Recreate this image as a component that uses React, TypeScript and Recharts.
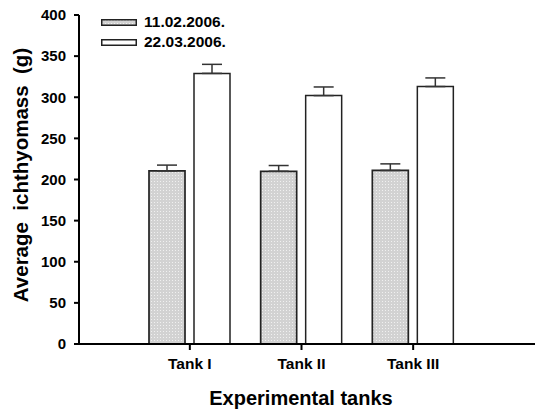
import React from 'react';
import { BarChart, Bar, XAxis, YAxis, ErrorBar, Legend, Label } from 'recharts';

const categories = ['Tank I', 'Tank II', 'Tank III'];
const seriesNames = ['11.02.2006.', '22.03.2006.'];
const series1 = [210.5, 210, 211];
const series2 = [329, 302, 313];
const err1 = [7, 7, 8];
const err2 = [11, 10.5, 10.5];
const yTicks = [0, 50, 100, 150, 200, 250, 300, 350, 400];

const data = categories.map((c, i) => ({
  name: c,
  s1: series1[i],
  s2: series2[i],
  e1: [0, err1[i]],
  e2: [0, err2[i]],
}));

const FONT = '"Liberation Sans", Arial, Helvetica, sans-serif';

const PatternDef = ({ id }: { id: string }) => (
  <pattern id={id} width="3" height="3" patternUnits="userSpaceOnUse">
    <rect x="0" y="0" width="3" height="3" fill="#d2d2d2" />
    <rect x="1" y="1" width="1" height="1" fill="#f0f0f0" />
  </pattern>
);

const LegendContent = () => (
  <div
    style={{
      position: 'relative',
      width: 200,
      height: 40,
      fontFamily: FONT,
      fontWeight: 'bold',
      fontSize: 15.5,
      color: '#000',
    }}
  >
    {seriesNames.map((n, i) => (
      <React.Fragment key={n}>
        <svg
          width={36}
          height={7}
          style={{ position: 'absolute', left: 0, top: 7 + i * 19.5, width: 36, height: 7, display: 'block' }}
        >
          <defs>
            <PatternDef id={'legendDots' + i} />
          </defs>
          <rect
            x={0.75}
            y={0.75}
            width={34.5}
            height={5.5}
            fill={i === 0 ? 'url(#legendDots0)' : '#fff'}
            stroke="#222"
            strokeWidth={1.5}
          />
        </svg>
        <span
          style={{
            position: 'absolute',
            left: 43,
            top: i * 19.5,
            lineHeight: '20px',
            whiteSpace: 'nowrap',
          }}
        >
          {n}
        </span>
      </React.Fragment>
    ))}
  </div>
);

export default function App() {
  return (
    <div style={{ position: 'absolute', left: 0, top: 0, width: 535, height: 412, background: '#fff' }}>
      <BarChart
        width={535}
        height={412}
        data={data}
        margin={{ top: 15, right: 0, bottom: 0, left: 0 }}
        barSize={36}
        barGap={9}
        style={{ fontFamily: FONT }}
      >
        <defs>
          <PatternDef id="barDots" />
        </defs>
        <XAxis
          dataKey="name"
          padding={{ left: 55, right: 66 }}
          height={68}
          tickSize={6}
          tickMargin={8}
          axisLine={{ stroke: '#000', strokeWidth: 2 }}
          tickLine={{ stroke: '#000', strokeWidth: 2 }}
          tick={{ fill: '#000', fontSize: 15.5, fontWeight: 'bold', fontFamily: FONT }}
        >
          <Label
            content={() => (
              <text
                x={301}
                y={405}
                textAnchor="middle"
                fill="#000"
                style={{ fontFamily: FONT, fontSize: 20, fontWeight: 'bold' }}
              >
                Experimental tanks
              </text>
            )}
          />
        </XAxis>
        <YAxis
          domain={[0, 400]}
          ticks={yTicks}
          interval={0}
          width={79}
          tickSize={5}
          tickMargin={8}
          axisLine={{ stroke: '#000', strokeWidth: 2 }}
          tickLine={{ stroke: '#000', strokeWidth: 2 }}
          tick={{ fill: '#000', fontSize: 15, fontWeight: 'bold', fontFamily: FONT }}
        >
          <Label
            content={() => (
              <text
                x={20}
                y={175}
                transform="rotate(-90, 20, 175)"
                textAnchor="middle"
                dominantBaseline="central"
                fill="#000"
                style={{ fontFamily: FONT, fontSize: 20.5, fontWeight: 'bold', whiteSpace: 'pre' }}
              >
                {'Average  ichthyomass  (g)'}
              </text>
            )}
          />
        </YAxis>
        <Legend
          layout="vertical"
          align="center"
          verticalAlign="middle"
          wrapperStyle={{ top: 12, left: 101, width: 200, height: 40 }}
          content={() => <LegendContent />}
        />
        <Bar dataKey="s1" name={seriesNames[0]} fill="url(#barDots)" stroke="#222" strokeWidth={1.7} isAnimationActive={false}>
          <ErrorBar dataKey="e1" width={10} stroke="#333" strokeWidth={1.5} direction="y" isAnimationActive={false} />
        </Bar>
        <Bar dataKey="s2" name={seriesNames[1]} fill="#fff" stroke="#222" strokeWidth={1.5} isAnimationActive={false}>
          <ErrorBar dataKey="e2" width={10} stroke="#333" strokeWidth={1.5} direction="y" isAnimationActive={false} />
        </Bar>
      </BarChart>
    </div>
  );
}
